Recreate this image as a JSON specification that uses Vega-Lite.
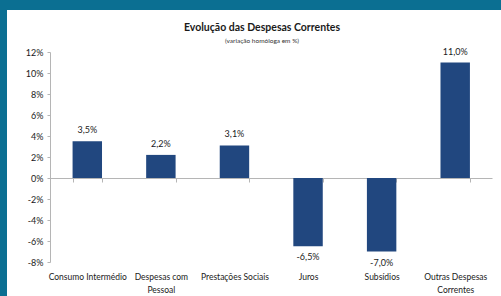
{
  "$schema": "https://vega.github.io/schema/vega-lite/v6.json",
  "width": 494,
  "height": 286,
  "autosize": {"type": "none"},
  "padding": {"left": 7, "top": 10, "right": 0, "bottom": 0},
  "background": "#0b6f92",
  "config": {
    "view": {"fill": "#ffffff", "stroke": null},
    "locale": {
      "number": {"decimal": ",", "thousands": ".", "grouping": [3], "currency": ["", " €"], "minus": "-"}
    },
    "font": "Lato"
  },
  "title": {
    "text": "Evolução das Despesas Correntes",
    "subtitle": "(variação homóloga em %)",
    "anchor": "middle",
    "dx": 8,
    "offset": -34,
    "font": "Lato",
    "fontSize": 10.5,
    "fontWeight": "bold",
    "color": "#1a1a1a",
    "subtitleFont": "Lato",
    "subtitleFontSize": 6.5,
    "subtitleColor": "#333333",
    "subtitlePadding": 4
  },
  "data": {
    "values": [
      {"cat": "Consumo Intermédio", "v": 0.035},
      {"cat": "Despesas com Pessoal", "v": 0.022},
      {"cat": "Prestações Sociais", "v": 0.031},
      {"cat": "Juros", "v": -0.065},
      {"cat": "Subsídios", "v": -0.07},
      {"cat": "Outras Despesas Correntes", "v": 0.11}
    ]
  },
  "encoding": {
    "x": {
      "field": "cat",
      "type": "nominal",
      "sort": null,
      "scale": {"range": [43.5, 485], "paddingInner": 0.6, "paddingOuter": 0.3},
      "axis": {
        "title": null,
        "orient": "bottom",
        "offset": -118,
        "labelAngle": 0,
        "tickBand": "extent",
        "tickSize": 4,
        "tickColor": "#b5b5b5",
        "domainColor": "#b5b5b5",
        "labelPadding": 90,
        "labelFontSize": 8.5,
        "labelColor": "#1a1a1a",
        "labelLineHeight": 13,
        "labelFont": "Lato",
        "labelExpr": "datum.label == 'Despesas com Pessoal' ? ['Despesas com', 'Pessoal'] : datum.label == 'Outras Despesas Correntes' ? ['Outras Despesas', 'Correntes'] : datum.label"
      }
    },
    "y": {
      "field": "v",
      "type": "quantitative",
      "scale": {"domain": [-0.08, 0.12], "range": [252, 42], "nice": false, "zero": false},
      "axis": {
        "title": null,
        "offset": -43,
        "format": ".0%",
        "values": [-0.08, -0.06, -0.04, -0.02, 0, 0.02, 0.04, 0.06, 0.08, 0.1, 0.12],
        "grid": false,
        "tickSize": 3,
        "tickColor": "#b5b5b5",
        "domainColor": "#b5b5b5",
        "labelPadding": 4,
        "labelFontSize": 9,
        "labelColor": "#1a1a1a",
        "labelFont": "Lato"
      }
    }
  },
  "layer": [
    {
      "mark": {"type": "bar", "color": "#21477f"},
      "encoding": {"y2": {"datum": 0}}
    },
    {
      "transform": [{"filter": "datum.v >= 0"}],
      "mark": {"type": "text", "baseline": "middle", "dy": -11, "fontSize": 9, "color": "#1a1a1a", "font": "Lato"},
      "encoding": {"text": {"field": "v", "type": "quantitative", "format": ".1%"}}
    },
    {
      "transform": [{"filter": "datum.v < 0"}],
      "mark": {"type": "text", "baseline": "middle", "dy": 11, "fontSize": 9, "color": "#1a1a1a", "font": "Lato"},
      "encoding": {"text": {"field": "v", "type": "quantitative", "format": ".1%"}}
    }
  ]
}
